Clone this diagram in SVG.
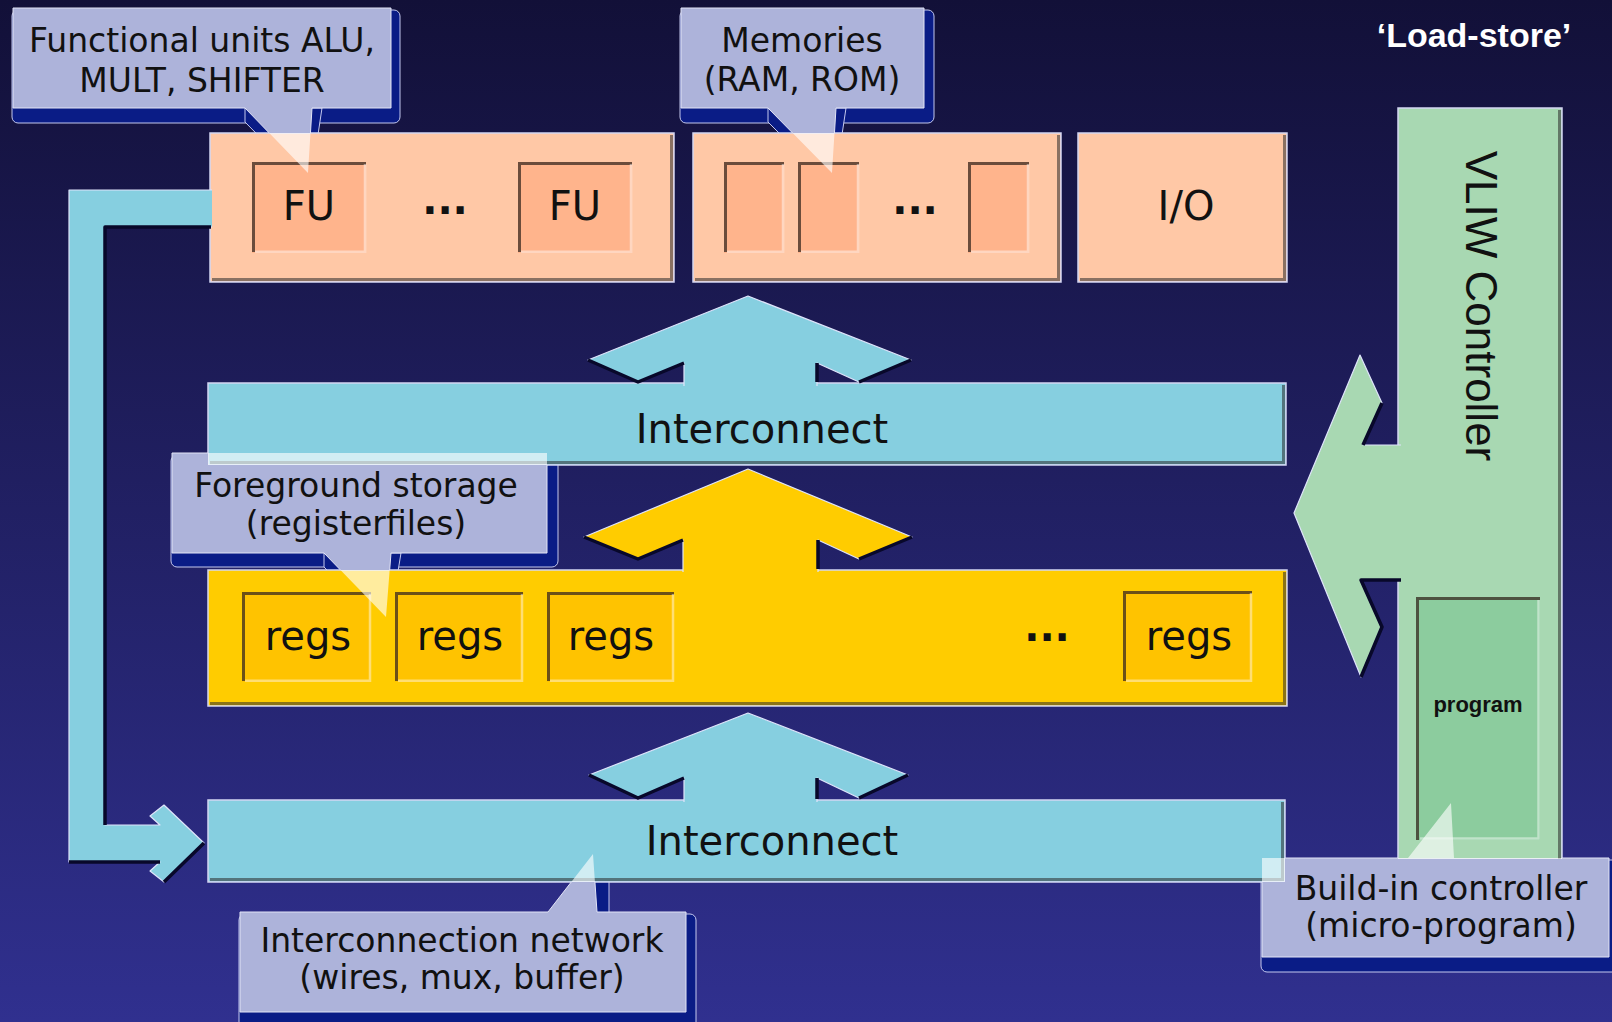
<svg xmlns="http://www.w3.org/2000/svg" width="1612" height="1022" viewBox="0 0 1612 1022">
  <defs>
    <linearGradient id="bg" x1="0" y1="0" x2="0" y2="1">
      <stop offset="0" stop-color="#121038"/>
      <stop offset="1" stop-color="#30308f"/>
    </linearGradient>
    <style>
      .lbl{font-family:"DejaVu Sans","Liberation Sans",sans-serif;fill:#111;text-anchor:middle}
      .big{font-size:40px}
      .co{font-size:33px}
      .dots{font-family:"DejaVu Sans","Liberation Sans",sans-serif;font-weight:bold;font-size:40px;fill:#111;text-anchor:middle}
      .rim{stroke:#d4d6f2;stroke-width:1.5}
      .sink{fill:none;stroke:#2a2a2a;stroke-width:3;opacity:.55}
      .inTL{fill:none;stroke:#3a2a20;stroke-width:3;opacity:.75}
      .inBR{fill:none;stroke:#fff;stroke-width:2.5;opacity:.45}
      .cshade{fill:#0a1c86;stroke:#c4c8ee;stroke-width:1}
      .cbody{fill:#adb3da;stroke:#e2e4f6;stroke-width:1}
      .cglass{fill:#fff;opacity:.62}
      .aedge{stroke:#dfe4fb;stroke-width:1.2;stroke-linejoin:round}
      .ashade{fill:none;stroke:#08082a;stroke-width:3.5;stroke-linejoin:round}
      .blue{fill:#86cfe0}
      .yel{fill:#ffcc00}
    </style>
    <!-- regions where callouts turn glassy over the boxes below them -->
    <mask id="mFU" maskUnits="userSpaceOnUse" x="0" y="0" width="1612" height="1022">
      <rect width="1612" height="1022" fill="#fff"/><rect x="210" y="133" width="464" height="149" fill="#000"/>
    </mask>
    <clipPath id="cFU"><rect x="210" y="133" width="464" height="149"/></clipPath>
    <mask id="mMem" maskUnits="userSpaceOnUse" x="0" y="0" width="1612" height="1022">
      <rect width="1612" height="1022" fill="#fff"/><rect x="693" y="133" width="368" height="149" fill="#000"/>
    </mask>
    <clipPath id="cMem"><rect x="693" y="133" width="368" height="149"/></clipPath>
    <mask id="mFg" maskUnits="userSpaceOnUse" x="0" y="0" width="1612" height="1022">
      <rect width="1612" height="1022" fill="#fff"/><rect x="208" y="383" width="1078" height="82" fill="#000"/><rect x="208" y="570" width="1079" height="136" fill="#000"/>
    </mask>
    <clipPath id="cFg"><rect x="208" y="383" width="1078" height="82"/><rect x="208" y="570" width="1079" height="136"/></clipPath>
    <mask id="mNet" maskUnits="userSpaceOnUse" x="0" y="0" width="1612" height="1022">
      <rect width="1612" height="1022" fill="#fff"/><rect x="208" y="800" width="1077" height="82" fill="#000"/>
    </mask>
    <clipPath id="cNet"><rect x="208" y="800" width="1077" height="82"/></clipPath>
    <mask id="mCtl" maskUnits="userSpaceOnUse" x="0" y="0" width="1612" height="1022">
      <rect width="1612" height="1022" fill="#fff"/><rect x="208" y="800" width="1077" height="82" fill="#000"/><rect x="1398" y="108" width="164" height="751" fill="#000"/>
    </mask>
    <clipPath id="cCtl"><rect x="208" y="800" width="1077" height="82"/><rect x="1398" y="108" width="164" height="751"/></clipPath>
  </defs>

  <rect width="1612" height="1022" fill="url(#bg)"/>

  <!-- drop shadows of the callouts, kept behind the boxes -->
  <g id="callout-shadows" class="cshade">
    <rect x="12" y="10" width="388" height="113" rx="6"/>
    <polygon points="245,108 245,122 310,188 322,108"/>
    <rect x="680" y="10" width="254" height="113" rx="6"/>
    <polygon points="768,108 768,122 834,188 846,108"/>
    <rect x="171" y="455" width="387" height="112" rx="6"/>
    <polygon points="324,553 324,567 388,632 401,553"/>
    <rect x="239" y="914" width="457" height="115" rx="6"/>
    <polygon points="593,856 609,866 609,914 590,914"/>
    <rect x="1261" y="860" width="360" height="112" rx="6"/>
  </g>

  <!-- functional units -->
  <g id="fu-group">
    <rect x="210" y="133" width="464" height="149" fill="#ffc8a6" class="rim"/>
    <path class="sink" d="M671.5,135 V279.5 H212"/>
    <rect x="252" y="162" width="114" height="91" fill="#ffb48c"/>
    <path class="inTL" d="M253.5,252 V163.5 H366"/>
    <path class="inBR" d="M365,164 V251.8 H255"/>
    <text class="lbl big" x="309" y="220">FU</text>
    <text class="dots" x="445" y="214">...</text>
    <rect x="518" y="162" width="114" height="91" fill="#ffb48c"/>
    <path class="inTL" d="M519.5,252 V163.5 H632"/>
    <path class="inBR" d="M631,164 V251.8 H521"/>
    <text class="lbl big" x="575" y="220">FU</text>
  </g>

  <!-- memories -->
  <g id="memories">
    <rect x="693" y="133" width="368" height="149" fill="#ffc8a6" class="rim"/>
    <path class="sink" d="M1058.5,135 V279.5 H695"/>
    <rect x="724" y="162" width="60" height="91" fill="#ffb48c"/>
    <path class="inTL" d="M725.5,252 V163.5 H784"/>
    <path class="inBR" d="M783,164 V251.8 H727"/>
    <rect x="798" y="162" width="61" height="91" fill="#ffb48c"/>
    <path class="inTL" d="M799.5,252 V163.5 H859"/>
    <path class="inBR" d="M858,164 V251.8 H801"/>
    <text class="dots" x="915" y="214">...</text>
    <rect x="968" y="162" width="61" height="91" fill="#ffb48c"/>
    <path class="inTL" d="M969.5,252 V163.5 H1029"/>
    <path class="inBR" d="M1028,164 V251.8 H971"/>
  </g>

  <!-- I/O -->
  <g id="io">
    <rect x="1078" y="133" width="209" height="149" fill="#ffc8a6" class="rim"/>
    <path class="sink" d="M1284.5,135 V279.5 H1080"/>
    <text class="lbl big" x="1186" y="220">I/O</text>
  </g>

  <!-- upper interconnect -->
  <g id="interconnect-top">
    <rect x="208" y="383" width="1078" height="82" class="blue rim"/>
    <path class="sink" d="M1283.5,385 V462.5 H210"/>
    <text class="lbl big" x="762" y="443">Interconnect</text>
  </g>

  <!-- foreground storage -->
  <g id="registerfiles">
    <rect x="208" y="570" width="1079" height="136" class="yel rim"/>
    <path class="sink" d="M1284.5,572 V703.5 H210"/>
    <rect x="242" y="592" width="129" height="90" fill="#ffc300"/>
    <path class="inTL" d="M243.5,681 V593.5 H371"/>
    <path class="inBR" d="M370,594 V680.8 H245"/>
    <text class="lbl big" x="308" y="650">regs</text>
    <rect x="395" y="592" width="128" height="90" fill="#ffc300"/>
    <path class="inTL" d="M396.5,681 V593.5 H523"/>
    <path class="inBR" d="M522,594 V680.8 H398"/>
    <text class="lbl big" x="460" y="650">regs</text>
    <rect x="547" y="592" width="127" height="90" fill="#ffc300"/>
    <path class="inTL" d="M548.5,681 V593.5 H674"/>
    <path class="inBR" d="M673,594 V680.8 H550"/>
    <text class="lbl big" x="611" y="650">regs</text>
    <text class="dots" x="1047" y="641">...</text>
    <rect x="1123" y="591" width="129" height="91" fill="#ffc300"/>
    <path class="inTL" d="M1124.5,681 V592.5 H1252"/>
    <path class="inBR" d="M1251,593 V680.8 H1126"/>
    <text class="lbl big" x="1189" y="650">regs</text>
  </g>

  <!-- lower interconnect -->
  <g id="interconnect-bottom">
    <rect x="208" y="800" width="1077" height="82" class="blue rim"/>
    <path class="sink" d="M1282.5,802 V879.5 H210"/>
    <text class="lbl big" x="772" y="855">Interconnect</text>
  </g>

  <!-- VLIW controller -->
  <g id="vliw-controller">
    <rect x="1398" y="108" width="164" height="751" fill="#a8d8b2" class="rim"/>
    <path class="sink" d="M1559.5,110 V859"/>
    <text transform="translate(1466,306) rotate(90)" font-family="Liberation Sans, Arial, sans-serif" font-size="44" fill="#111" text-anchor="middle">VLIW Controller</text>
    <rect x="1416" y="597" width="124" height="243" fill="#8ccc9e"/>
    <path class="inTL" d="M1417.5,840 V598.5 H1540" stroke="#1e3a24"/>
    <path class="inBR" d="M1538.5,600 V838.5 H1420"/>
    <text x="1478" y="712" font-family="Liberation Sans, Arial, sans-serif" font-size="22" font-weight="bold" fill="#111" text-anchor="middle">program</text>
  </g>

  <!-- data paths between the blocks -->
  <g id="connectors">
    <!-- interconnect up to FUs / memories -->
    <path class="blue aedge" d="M684,386 V363 L638,382 L588,360 L748,296 L911,360 L859,382 L817,363 V386"/>
    <path class="ashade" d="M588,360 L638,382 L684,363 M817,363 V382 M859,382 L911,360"/>
    <!-- register files up to interconnect -->
    <path class="yel aedge" d="M683,572 V540 L638,559 L584,537 L748,469 L912,537 L859,559 L818,540 V572"/>
    <path class="ashade" d="M584,537 L638,559 L683,540 M818,540 V569 M859,559 L912,537"/>
    <!-- interconnect up to register files -->
    <path class="blue aedge" d="M684,802 V778 L638,798 L589,775 L748,713 L908,775 L859,798 L817,778 V802"/>
    <path class="ashade" d="M589,775 L638,798 L684,778 M817,778 V799 M859,798 L908,775"/>
    <!-- feedback from FU outputs to lower interconnect -->
    <path class="blue aedge" d="M212,227 H105 V825 H160 L150,816 L164,805 L204,843 L164,882 L150,871 L160,862 H69 V190 H212"/>
    <path class="ashade" d="M211,227 H105 V825 M69,862 H160 M204,843 L164,882"/>
    <!-- controller to datapath -->
    <path d="M1401,445 H1363 L1382,403 L1360,355 L1294,513 L1361,677 L1382,627 L1361,580 H1401" fill="#a8d8b2" class="aedge"/>
    <path class="ashade" d="M1382,403 L1363,445 M1401,580 H1361 L1382,627 L1361,677"/>
  </g>

  <!-- callouts -->
  <g id="callout-fu">
    <path class="cbody" mask="url(#mFU)" d="M13,8 H391 V108 H312 L308,173 L245,108 H13 Z"/>
    <path class="cglass" clip-path="url(#cFU)" d="M13,8 H391 V108 H312 L308,173 L245,108 H13 Z"/>
    <text class="lbl co" x="202" y="52">Functional units ALU,</text>
    <text class="lbl co" x="202" y="92">MULT, SHIFTER</text>
  </g>
  <g id="callout-memories">
    <path class="cbody" mask="url(#mMem)" d="M681,8 H924 V108 H836 L832,173 L768,108 H681 Z"/>
    <path class="cglass" clip-path="url(#cMem)" d="M681,8 H924 V108 H836 L832,173 L768,108 H681 Z"/>
    <text class="lbl co" x="802" y="52">Memories</text>
    <text class="lbl co" x="802" y="91">(RAM, ROM)</text>
  </g>
  <g id="callout-foreground">
    <path class="cbody" mask="url(#mFg)" d="M172,453 H547 V553 H391 L386,617 L324,553 H172 Z"/>
    <path class="cglass" clip-path="url(#cFg)" d="M172,453 H547 V553 H391 L386,617 L324,553 H172 Z"/>
    <text class="lbl co" x="356" y="497">Foreground storage</text>
    <text class="lbl co" x="356" y="535">(registerfiles)</text>
  </g>
  <g id="callout-network">
    <path class="cbody" mask="url(#mNet)" d="M240,912 H548 L593,854 L597,912 H686 V1012 H240 Z"/>
    <path class="cglass" clip-path="url(#cNet)" d="M240,912 H548 L593,854 L597,912 H686 V1012 H240 Z"/>
    <text class="lbl co" x="462" y="952">Interconnection network</text>
    <text class="lbl co" x="462" y="989">(wires, mux, buffer)</text>
  </g>
  <g id="callout-controller">
    <path class="cbody" mask="url(#mCtl)" d="M1262,858 H1408 L1451,803 L1454,858 H1609 V957 H1262 Z"/>
    <path class="cglass" clip-path="url(#cCtl)" d="M1262,858 H1408 L1451,803 L1454,858 H1609 V957 H1262 Z"/>
    <text class="lbl co" x="1441" y="900">Build-in controller</text>
    <text class="lbl co" x="1441" y="937">(micro-program)</text>
  </g>

  <text x="1474" y="47" font-family="Liberation Sans, Arial, sans-serif" font-size="34" font-weight="bold" fill="#fff" text-anchor="middle">‘Load-store’</text>
</svg>
